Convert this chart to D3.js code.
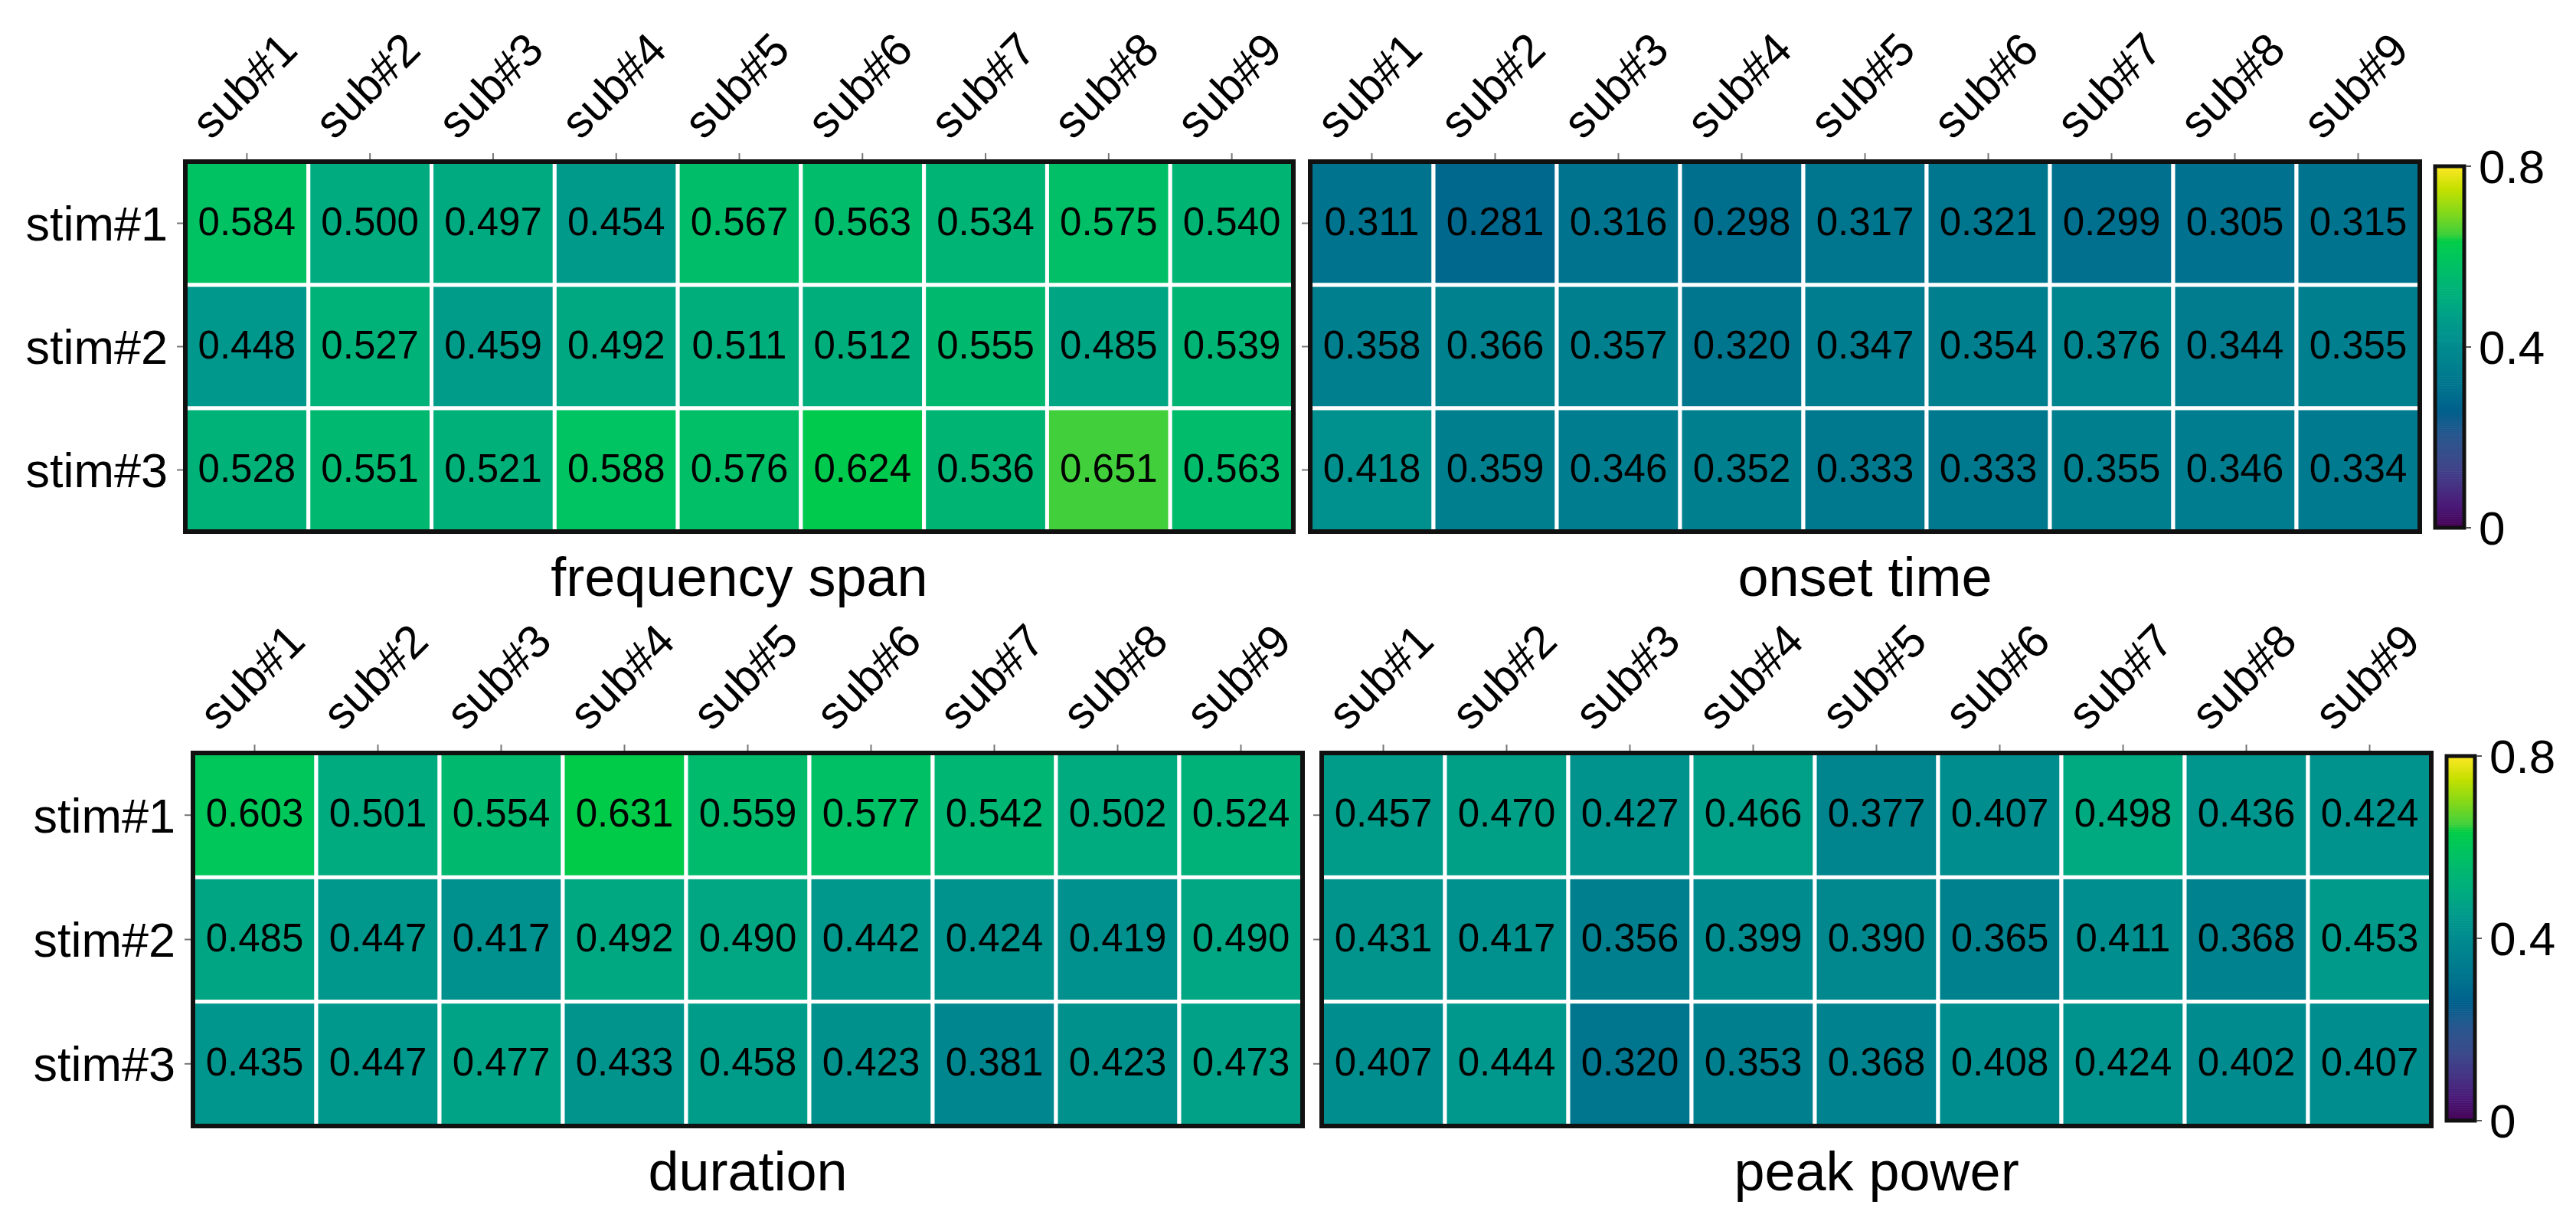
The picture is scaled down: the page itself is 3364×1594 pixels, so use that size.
<!DOCTYPE html>
<html>
<head>
<meta charset="utf-8">
<script src="https://cdn.jsdelivr.net/npm/d3@7"></script>
<style>
  body { margin: 0; background: #fff; }
  text { font-family: "Liberation Sans", Arial, sans-serif; fill: #000; }
</style>
</head>
<body>
<div id="chart"></div>
<script>
// categories
var subs = ["sub#1", "sub#2", "sub#3", "sub#4", "sub#5", "sub#6", "sub#7", "sub#8", "sub#9"];
var stims = ["stim#1", "stim#2", "stim#3"];

// values per panel, one row per stim
var freqSpan = [
  [0.584, 0.500, 0.497, 0.454, 0.567, 0.563, 0.534, 0.575, 0.540],
  [0.448, 0.527, 0.459, 0.492, 0.511, 0.512, 0.555, 0.485, 0.539],
  [0.528, 0.551, 0.521, 0.588, 0.576, 0.624, 0.536, 0.651, 0.563]
];
var onsetTime = [
  [0.311, 0.281, 0.316, 0.298, 0.317, 0.321, 0.299, 0.305, 0.315],
  [0.358, 0.366, 0.357, 0.320, 0.347, 0.354, 0.376, 0.344, 0.355],
  [0.418, 0.359, 0.346, 0.352, 0.333, 0.333, 0.355, 0.346, 0.334]
];
var duration = [
  [0.603, 0.501, 0.554, 0.631, 0.559, 0.577, 0.542, 0.502, 0.524],
  [0.485, 0.447, 0.417, 0.492, 0.490, 0.442, 0.424, 0.419, 0.490],
  [0.435, 0.447, 0.477, 0.433, 0.458, 0.423, 0.381, 0.423, 0.473]
];
var peakPower = [
  [0.457, 0.470, 0.427, 0.466, 0.377, 0.407, 0.498, 0.436, 0.424],
  [0.431, 0.417, 0.356, 0.399, 0.390, 0.365, 0.411, 0.368, 0.453],
  [0.407, 0.444, 0.320, 0.353, 0.368, 0.408, 0.424, 0.402, 0.407]
];
var titles = ["frequency span", "onset time", "duration", "peak power"];

// colorbar ticks
var cbTicks = [0, 0.4, 0.8];
var cbTickLabels = ["0", "0.4", "0.8"];

// colour map (viridis-like, more saturated greens)
var cmapStops = [0, 0.05, 0.1, 0.15, 0.2, 0.26, 0.3, 0.35, 0.4, 0.45, 0.5, 0.55, 0.6, 0.635, 0.65, 0.7, 0.75, 0.8];
var cmapColors = ["#440154", "#4a1a78", "#463585", "#3b4a8b", "#2b568e", "#00608c", "#00708e", "#007e8e",
                  "#008b8e", "#00998c", "#00ab80", "#00b870", "#00c65c", "#00cc46", "#40d03c", "#86d818",
                  "#c4e000", "#fde725"];

var width = 3364, height = 1594;

var color = d3.scaleLinear()
  .domain(cmapStops)
  .range(cmapColors)
  .interpolate(d3.interpolateRgb)
  .clamp(true);

var svg = d3.select("#chart")
  .append("svg")
    .attr("width", width)
    .attr("height", height);

svg.append("rect").attr("width", width).attr("height", height).attr("fill", "#fff");

// panel boxes
var panels = [
  {data: freqSpan,  title: titles[0], x0: 242,  x1: 1689, y0: 211, y1: 694, yLabels: true},
  {data: onsetTime, title: titles[1], x0: 1711, x1: 3160, y0: 211, y1: 694, yLabels: false},
  {data: duration,  title: titles[2], x0: 252,  x1: 1701, y0: 983, y1: 1470, yLabels: true},
  {data: peakPower, title: titles[3], x0: 1726, x1: 3175, y0: 983, y1: 1470, yLabels: false}
];

var colorbars = [
  {x0: 3180, x1: 3218, y0: 217, y1: 689},
  {x0: 3195, x1: 3232, y0: 987, y1: 1463}
];

panels.forEach(function (p) {
  var g = svg.append("g");

  var x = d3.scaleBand().domain(subs).range([p.x0, p.x1]);
  var y = d3.scaleBand().domain(stims).range([p.y0, p.y1]);

  var cells = [];
  p.data.forEach(function (row, i) {
    row.forEach(function (v, j) {
      cells.push({stim: stims[i], sub: subs[j], value: v});
    });
  });

  g.selectAll("rect.cell")
    .data(cells)
    .enter()
    .append("rect")
      .attr("class", "cell")
      .attr("x", function (d) { return x(d.sub); })
      .attr("y", function (d) { return y(d.stim); })
      .attr("width", x.bandwidth())
      .attr("height", y.bandwidth())
      .attr("fill", function (d) { return color(d.value); })
      .attr("stroke", "#fff")
      .attr("stroke-width", 5);

  g.selectAll("text.val")
    .data(cells)
    .enter()
    .append("text")
      .attr("class", "val")
      .attr("x", function (d) { return x(d.sub) + x.bandwidth() / 2; })
      .attr("y", function (d) { return y(d.stim) + y.bandwidth() / 2 + 0.358 * 51 - 3; })
      .attr("text-anchor", "middle")
      .style("font-size", "51px")
      .text(function (d) { return d.value.toFixed(3); });

  // frame
  g.append("rect")
    .attr("x", p.x0).attr("y", p.y0)
    .attr("width", p.x1 - p.x0).attr("height", p.y1 - p.y0)
    .attr("fill", "none")
    .attr("stroke", "#111")
    .attr("stroke-width", 6);

  // x ticks on top
  g.selectAll("line.xt")
    .data(subs)
    .enter()
    .append("line")
      .attr("x1", function (d) { return x(d) + x.bandwidth() / 2; })
      .attr("x2", function (d) { return x(d) + x.bandwidth() / 2; })
      .attr("y1", p.y0 - 3)
      .attr("y2", p.y0 - 11)
      .attr("stroke", "#777")
      .attr("stroke-width", 2);

  // rotated sub labels
  var fs = 60;
  g.selectAll("text.xl")
    .data(subs)
    .enter()
    .append("text")
      .attr("class", "xl")
      .style("font-size", fs + "px")
      .text(function (d) { return d; })
      .each(function (d) {
        var w = this.getComputedTextLength();
        var ax = x(d) + x.bandwidth() / 2 - 0.3535 * (w - 0.52 * fs);
        var ay = p.y0 - 27;
        d3.select(this).attr("transform", "translate(" + ax + "," + ay + ") rotate(-45)");
      });

  // y ticks on left
  g.selectAll("line.yt")
    .data(stims)
    .enter()
    .append("line")
      .attr("x1", p.x0 - 3)
      .attr("x2", p.x0 - 11)
      .attr("y1", function (d) { return y(d) + y.bandwidth() / 2; })
      .attr("y2", function (d) { return y(d) + y.bandwidth() / 2; })
      .attr("stroke", "#777")
      .attr("stroke-width", 2);

  if (p.yLabels) {
    g.selectAll("text.yl")
      .data(stims)
      .enter()
      .append("text")
        .attr("class", "yl")
        .attr("x", p.x0 - 23)
        .attr("y", function (d) { return y(d) + y.bandwidth() / 2 + 0.358 * 63; })
        .attr("text-anchor", "end")
        .style("font-size", "63px")
        .text(function (d) { return d; });
  }

  g.append("text")
    .attr("x", (p.x0 + p.x1) / 2)
    .attr("y", p.y1 + 84)
    .attr("text-anchor", "middle")
    .style("font-size", "72px")
    .text(p.title);
});

// colorbars
colorbars.forEach(function (c) {
  var g = svg.append("g");
  var cy = d3.scaleLinear().domain([0, 0.8]).range([c.y1, c.y0]);
  var steps = d3.range(0, 0.8, 0.005);

  g.selectAll("rect.cb")
    .data(steps)
    .enter()
    .append("rect")
      .attr("x", c.x0)
      .attr("width", c.x1 - c.x0)
      .attr("y", function (d) { return cy(d + 0.005); })
      .attr("height", function (d) { return cy(d) - cy(d + 0.005) + 0.6; })
      .attr("fill", function (d) { return color(d + 0.0025); });

  g.append("rect")
    .attr("x", c.x0).attr("y", c.y0)
    .attr("width", c.x1 - c.x0).attr("height", c.y1 - c.y0)
    .attr("fill", "none")
    .attr("stroke", "#111")
    .attr("stroke-width", 5);

  g.selectAll("line.ct")
    .data(cbTicks)
    .enter()
    .append("line")
      .attr("x1", c.x1 + 2)
      .attr("x2", c.x1 + 9)
      .attr("y1", function (d) { return cy(d); })
      .attr("y2", function (d) { return cy(d); })
      .attr("stroke", "#555")
      .attr("stroke-width", 2);

  g.selectAll("text.cl")
    .data(cbTicks)
    .enter()
    .append("text")
      .attr("x", c.x1 + 19)
      .attr("y", function (d) { return cy(d) + 0.358 * 62; })
      .style("font-size", "62px")
      .text(function (d, i) { return cbTickLabels[i]; });
});
</script>
</body>
</html>
